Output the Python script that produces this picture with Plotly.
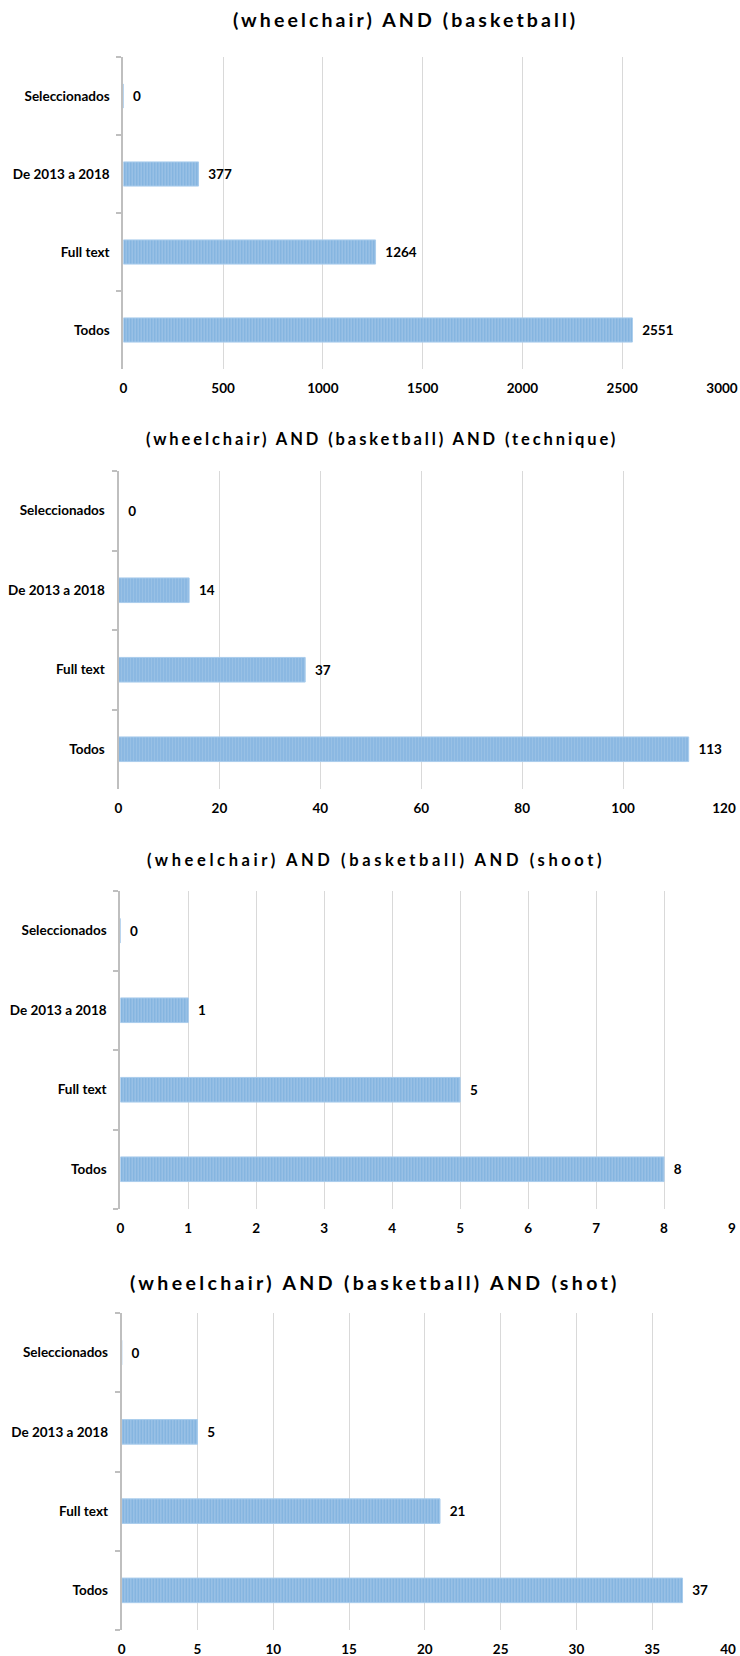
import plotly.graph_objects as go

# Search result counts per filter stage, one panel per query
categories = ["Todos", "Full text", "De 2013 a 2018", "Seleccionados"]

titles = [
    "(wheelchair) AND (basketball)",
    "(wheelchair) AND (basketball) AND (technique)",
    "(wheelchair) AND (basketball) AND (shoot)",
    "(wheelchair) AND (basketball) AND (shot)",
]

basketball = [2551, 1264, 377, 0]
technique = [113, 37, 14, 0]
shoot = [8, 5, 1, 0]
shot = [37, 21, 5, 0]

x_max = [3000, 120, 9, 40]
x_step = [500, 20, 1, 5]

W, H = 740, 1656
FONT = "Lato"

# panel geometry in pixels: (left, right, top, bottom), title centre (x, y), title size, letter spacing
panels = [
    dict(l=123.3, r=722.0, t=57, b=369, tx=406, ty=19, ts=19.5, ls=3.1),
    dict(l=118.5, r=724.0, t=471, b=789, tx=382, ty=439, ts=16.5, ls=2.9),
    dict(l=120.3, r=732.0, t=891, b=1209, tx=376, ty=860, ts=16.5, ls=3.6),
    dict(l=121.7, r=728.0, t=1313, b=1630, tx=375, ty=1282, ts=19.5, ls=3.35),
]

series = [basketball, technique, shoot, shot]

fig = go.Figure()
annotations = []

for i, (vals, p) in enumerate(zip(series, panels)):
    n = "" if i == 0 else str(i + 1)
    fig.add_trace(go.Bar(
        x=vals,
        y=categories,
        orientation="h",
        xaxis="x" + n,
        yaxis="y" + n,
        marker=dict(
            color="#9DC3E6",
            line=dict(color="#A9CCEC", width=1),
            pattern=dict(shape="|", fgcolor="#5E9DD6", size=3, solidity=0.45),
        ),
        texttemplate="\u2002%{x}",
        textposition="outside",
        textfont=dict(family=FONT, size=13.5, color="#000000", weight="bold"),
        cliponaxis=False,
        showlegend=False,
        hoverinfo="skip",
    ))

    xdom = [p["l"] / W, p["r"] / W]
    ydom = [1 - p["b"] / H, 1 - p["t"] / H]
    fig.update_layout(**{
        "xaxis" + n: dict(
            domain=xdom,
            range=[0, x_max[i]],
            dtick=x_step[i],
            tick0=0,
            anchor="y" + n,
            automargin=False,
            showgrid=True,
            gridcolor="#D9D9D9",
            gridwidth=1,
            zeroline=False,
            showline=False,
            ticks="",
            ticklabelstandoff=9,
            tickfont=dict(family=FONT, size=13.5, color="#000000", weight="bold"),
            fixedrange=True,
        ),
        "yaxis" + n: dict(
            domain=ydom,
            anchor="x" + n,
            automargin=False,
            type="category",
            categoryorder="array",
            categoryarray=categories,
            showgrid=False,
            showline=True,
            linecolor="#BFBFBF",
            linewidth=2,
            ticks="outside",
            tickson="boundaries",
            ticklen=5,
            tickcolor="#BFBFBF",
            tickwidth=1.5,
            ticklabelstandoff=9,
            tickfont=dict(family=FONT, size=13.5, color="#000000", weight="bold"),
            fixedrange=True,
        ),
    })

    annotations.append(dict(
        text=f'<span style="letter-spacing:{p["ls"]}px">{titles[i]}</span>',
        x=p["tx"] / W,
        y=1 - p["ty"] / H,
        xref="paper",
        yref="paper",
        xanchor="center",
        yanchor="middle",
        showarrow=False,
        font=dict(family=FONT, size=p["ts"], color="#000000", weight="bold"),
    ))

fig.update_layout(
    width=W,
    height=H,
    margin=dict(l=0, r=0, t=0, b=0),
    paper_bgcolor="#FFFFFF",
    plot_bgcolor="#FFFFFF",
    bargap=0.69,
    annotations=annotations,
)

fig.write_html("out.html")
